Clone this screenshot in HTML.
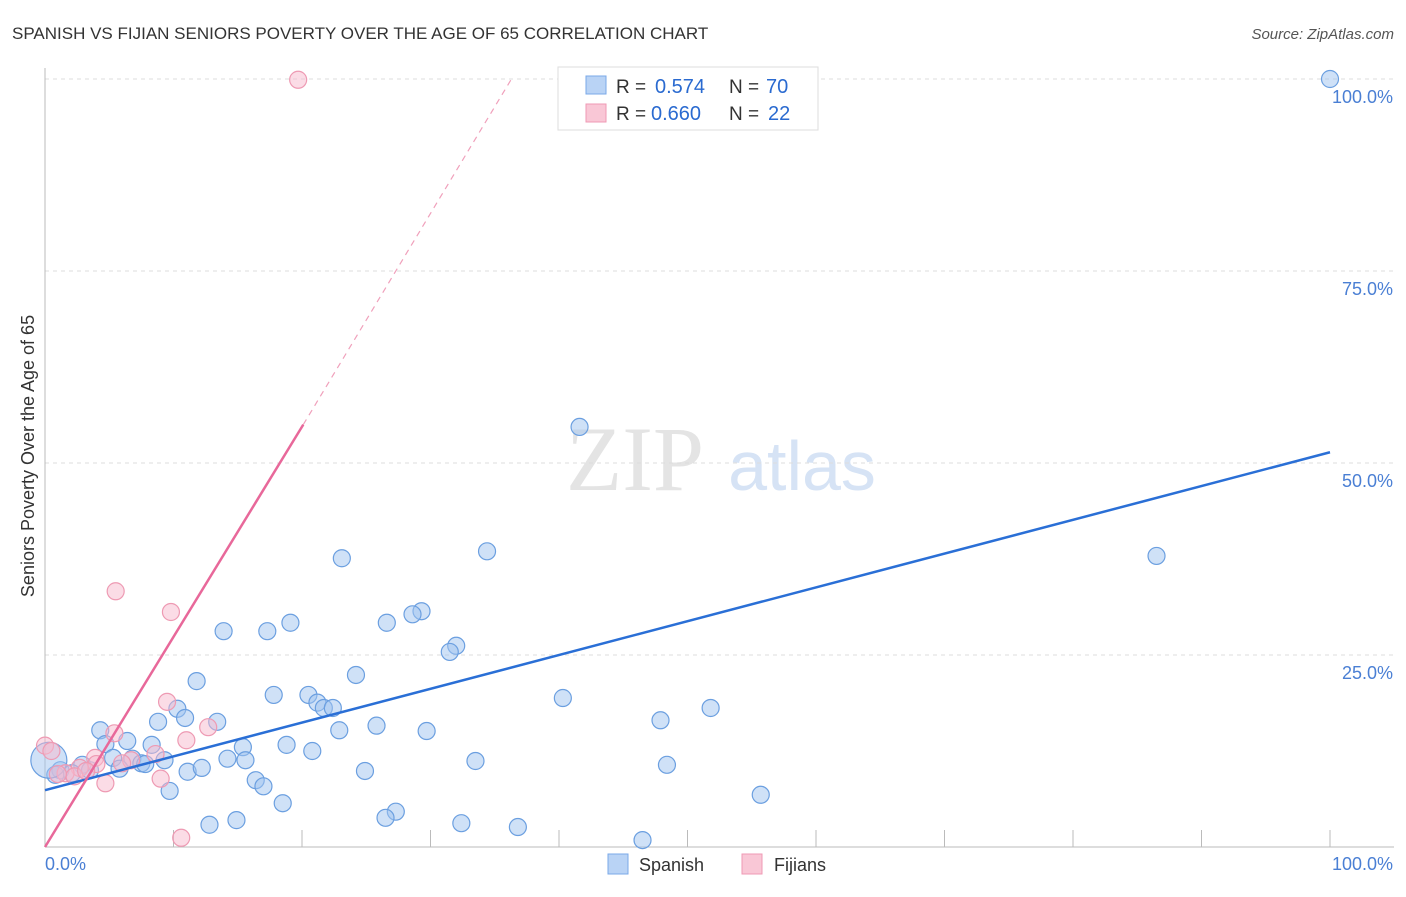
<!DOCTYPE html>
<html><head><meta charset="utf-8"><style>
body{margin:0;background:#fff;font-family:"Liberation Sans",sans-serif}
</style></head><body>
<svg width="1406" height="892" xmlns="http://www.w3.org/2000/svg">
<text x="12" y="39" font-size="17" fill="#333">SPANISH VS FIJIAN SENIORS POVERTY OVER THE AGE OF 65 CORRELATION CHART</text>
<text x="1394" y="39" font-size="15" fill="#555" font-style="italic" text-anchor="end">Source: ZipAtlas.com</text>
<text x="635" y="490" font-size="92" fill="#e4e4e4" font-family="Liberation Serif,serif" text-anchor="middle">ZIP</text>
<text x="802" y="490" font-size="70" fill="#d6e3f5" text-anchor="middle">atlas</text>
<g id="grid"></g>
<g id="axes"></g>
<g id="pts"></g>
<g id="lines"></g>
<text transform="translate(34,456) rotate(-90)" font-size="18" fill="#333" text-anchor="middle">Seniors Poverty Over the Age of 65</text>
<text x="45" y="870" font-size="18" fill="#4a7fd4">0.0%</text>
<text x="1393" y="870" font-size="18" fill="#4a7fd4" text-anchor="end">100.0%</text>
<g>
<rect x="558" y="67" width="260" height="63" fill="#fff" stroke="#ddd"/>
<rect x="586" y="76" width="20" height="18" fill="#b9d3f5" stroke="#7aa8e8"/>
<rect x="586" y="104" width="20" height="18" fill="#f9c7d6" stroke="#ef9ab4"/>
<text x="616" y="93" font-size="19" fill="#333">R =</text>
<text x="655" y="93" font-size="20" fill="#2a6ad0">0.574</text>
<text x="729" y="93" font-size="19" fill="#333">N =</text>
<text x="766" y="93" font-size="20" fill="#2a6ad0">70</text>
<text x="616" y="120" font-size="19" fill="#333">R =</text>
<text x="651" y="120" font-size="20" fill="#2a6ad0">0.660</text>
<text x="729" y="120" font-size="19" fill="#333">N =</text>
<text x="768" y="120" font-size="20" fill="#2a6ad0">22</text>
</g>
<g>
<rect x="608" y="854" width="20" height="20" fill="#b9d3f5" stroke="#7aa8e8"/>
<text x="639" y="871" font-size="18" fill="#333">Spanish</text>
<rect x="742" y="854" width="20" height="20" fill="#f9c7d6" stroke="#ef9ab4"/>
<text x="774" y="871" font-size="18" fill="#333">Fijians</text>
</g>
</svg>
<script>
const yTicks=[25,50,75,100];
const yTickLabels=["25.0%","50.0%","75.0%","100.0%"];
const xTicks=[0,10,20,30,40,50,60,70,80,90,100];
const spanishX=[100,41.6,34.4,23.1,86.5,29.3,28.6,26.6,19.1,17.3,13.9,32,31.5,24.2,11.8,17.8,20.5,21.2,21.7,22.4,40.3,51.8,10.3,10.9,8.8,13.4,47.9,25.8,4.3,22.9,29.7,4.7,6.4,8.3,15.4,18.8,20.8,5.3,6.8,7.5,9.3,14.2,15.6,33.5,48.4,2.9,3.5,1.2,2.1,5.8,7.8,11.1,12.2,24.9,0.8,16.4,17,9.7,55.7,18.5,27.3,26.5,32.4,14.9,12.8,36.8,46.5,0.3];
const spanishY=[100,54.7,38.5,37.6,37.9,30.7,30.3,29.2,29.2,28.1,28.1,26.2,25.4,22.4,21.6,19.8,19.8,18.8,18.1,18.1,19.4,18.1,18,16.8,16.3,16.3,16.5,15.8,15.2,15.2,15.1,13.4,13.8,13.3,13,13.3,12.5,11.6,11.5,10.9,11.3,11.5,11.3,11.2,10.7,10.7,10,10,9.6,10.2,10.8,9.8,10.3,9.9,9.4,8.7,7.9,7.3,6.8,5.7,4.6,3.8,3.1,3.5,2.9,2.6,0.9,11.3];
const fijiX=[19.7,5.5,9.8,9.5,12.7,11,5.4,0,3.9,8.6,6.7,2.7,1.6,4.7,9,10.6,4,2.3,1,6,3.2,0.5];
const fijiY=[99.9,33.3,30.6,18.9,15.6,13.9,14.8,13.2,11.6,12.1,11.3,10.3,9.6,8.3,8.9,1.2,10.8,9.2,9.5,10.9,9.9,12.5];
const blueLine=[7.4,51.4];
const pinkLine={x0:0,y0:0,x1:20.1,y1:55,xd:36.3,yd:100};
const X=v=>45+v*12.85, Y=v=>847-v*7.68;
const NS="http://www.w3.org/2000/svg";
function mk(p,t,a){const e=document.createElementNS(NS,t);for(const k in a)e.setAttribute(k,a[k]);document.getElementById(p).appendChild(e);return e;}
yTicks.forEach((t,i)=>{
 const l=mk('grid','line',{x1:45,x2:1394,y1:Y(t),y2:Y(t),stroke:'#ddd','stroke-dasharray':'4,4'});
 
 
 const tx=mk('grid','text',{x:1393,y:Y(t)+24,'font-size':18,fill:'#4a7fd4','text-anchor':'end'});
 tx.textContent=yTickLabels[i];
 
 
});
let ax=mk('axes','line',{x1:45,x2:45,y1:68,y2:847,stroke:'#bbb'});


ax=mk('axes','line',{x1:45,x2:1394,y1:847,y2:847,stroke:'#bbb'});


xTicks.forEach(t=>{const l=mk('axes','line',{x1:X(t),x2:X(t),y1:830,y2:847,stroke:'#bbb'});
 
 });
spanishX.forEach((v,i)=>{const c=mk('pts','circle',{cx:X(v),cy:Y(spanishY[i]),r:i==spanishX.length-1?18:8.5,fill:'rgba(160,195,240,0.5)',stroke:'#6b9fe0','stroke-width':1.2});
 
 });
fijiX.forEach((v,i)=>{const c=mk('pts','circle',{cx:X(v),cy:Y(fijiY[i]),r:8.5,fill:'rgba(248,185,205,0.5)',stroke:'#ee9ab3','stroke-width':1.2});
 
 });
let ln=mk('lines','line',{x1:X(0),y1:Y(blueLine[0]),x2:X(100),y2:Y(blueLine[1]),stroke:'#2a6fd6','stroke-width':2.5});


ln=mk('lines','line',{x1:X(pinkLine.x0),y1:Y(pinkLine.y0),x2:X(pinkLine.x1),y2:Y(pinkLine.y1),stroke:'#e8689a','stroke-width':2.5});


ln=mk('lines','line',{x1:X(pinkLine.x1),y1:Y(pinkLine.y1),x2:X(pinkLine.xd),y2:Y(pinkLine.yd),stroke:'#f0a0bb','stroke-width':1.2,'stroke-dasharray':'6,5'});


</script>
</body></html>
